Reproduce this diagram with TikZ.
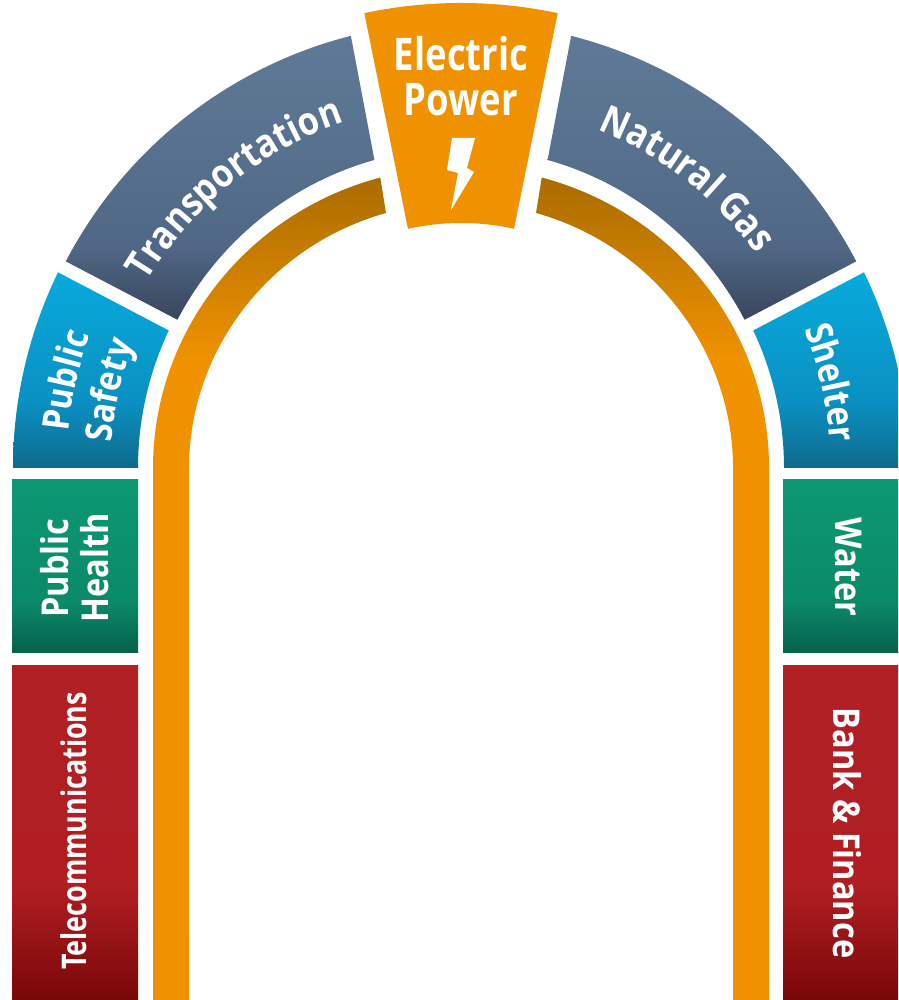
\documentclass[tikz,border=0pt]{standalone}
\usepackage{fontspec}
\usetikzlibrary{decorations.text}
\newfontfamily\lab[FakeStretch=0.88]{Open Sans}
\newfontfamily\labn[FakeStretch=0.79]{Open Sans}
\newfontfamily\labk[FakeStretch=0.81]{Open Sans}
\definecolor{slT}{HTML}{5F7A96}\definecolor{slM}{HTML}{506886}\definecolor{slB}{HTML}{39455C}
\definecolor{blT}{HTML}{08AADC}\definecolor{blM}{HTML}{0A90C2}\definecolor{blB}{HTML}{106A8C}
\definecolor{grT}{HTML}{0C9872}\definecolor{grM}{HTML}{0A8A68}\definecolor{grB}{HTML}{07604C}
\definecolor{reT}{HTML}{B02024}\definecolor{reM}{HTML}{B01E22}\definecolor{reB}{HTML}{780808}
\definecolor{orA}{HTML}{F09200}\definecolor{orD}{HTML}{A96C00}
\pgfdeclareverticalshading{redgrad}{100bp}{color(0bp)=(reB); color(25bp)=(reB); color(42bp)=(reM); color(75bp)=(reT); color(100bp)=(reT)}
\pgfdeclareverticalshading{slgrad}{100bp}{color(0bp)=(slB); color(25bp)=(slB); color(38bp)=(slM); color(75bp)=(slT); color(100bp)=(slT)}
\pgfdeclareverticalshading{blgrad}{100bp}{color(0bp)=(blB); color(25bp)=(blB); color(42bp)=(blM); color(75bp)=(blT); color(100bp)=(blT)}
\pgfdeclareverticalshading{grgrad}{100bp}{color(0bp)=(grB); color(25bp)=(grB); color(40bp)=(grM); color(75bp)=(grT); color(100bp)=(grT)}
\tikzset{
  slateseg/.style={shading=slgrad},
  blueseg/.style={shading=blgrad},
  greenseg/.style={shading=grgrad},
  redseg/.style={shading=redgrad},
  lbl/.style={text=white,inner sep=0pt,font=\lab\bfseries\fontsize{37}{39}\selectfont,align=center},
}
\newcommand{\curvedlabel}[5]{% size, radius, start, end, text
  \path[decorate,decoration={text along path,text align=center,
    text={|\lab\bfseries\fontsize{#1}{39}\selectfont\color{white}|#5}}]
    ([shift={(c)}]#3:#2) arc[start angle=#3,end angle=#4,radius=#2];}
\begin{document}
\begin{tikzpicture}[x=1pt,y=1pt]
\useasboundingbox (0,0) rectangle (898,1000);
\fill[white] (0,0) rectangle (898,1000);
\clip (0,0) rectangle (898,1000);
\coordinate (c) at (461,532);
% lower bands
\shade[redseg] (12,0) rectangle (138,334);
\shade[redseg] (783,0) rectangle (910,334);
\shade[greenseg] (12,347) rectangle (138,520);
\shade[greenseg] (783,347) rectangle (910,520);
% blue
\shade[blueseg] (13,532) arc[start angle=180,end angle=154.1,radius=448]
  -- ([shift={(c)}]154.8:323) arc[start angle=154.8,end angle=180,radius=323] -- cycle;
\shade[blueseg] (909,532) arc[start angle=0,end angle=25.9,radius=448]
  -- ([shift={(c)}]25.2:323) arc[start angle=25.2,end angle=0,radius=323] -- cycle;
% slate
\shade[slateseg] ([shift={(c)}]152.4:446) arc[start angle=152.4,end angle=104.3,radius=446]
  -- ([shift={(c)}]105.7:320) arc[start angle=105.7,end angle=152.4,radius=320] -- cycle;
\shade[slateseg] ([shift={(c)}]27.6:446) arc[start angle=27.6,end angle=75.7,radius=446]
  -- ([shift={(c)}]74.3:320) arc[start angle=74.3,end angle=27.6,radius=320] -- cycle;
% orange arch
\begin{scope}
\clip (153,0) -- (153,532) arc[start angle=180,end angle=105.2,x radius=308,y radius=301]
  -- (386,787) arc[start angle=106,end angle=180,x radius=272,y radius=266] -- (189,0) -- cycle
  (769,0) -- (769,532) arc[start angle=0,end angle=74.8,x radius=308,y radius=301]
  -- (536,787) arc[start angle=74,end angle=0,x radius=272,y radius=266] -- (733,0) -- cycle;
\fill[orA] (140,0) rectangle (780,640);
\shade[top color=orD,bottom color=orA] (140,640) rectangle (780,825);
\end{scope}
% keystone
\fill[orA] ([shift={(c)}]102:465) arc[start angle=102,end angle=78,radius=465]
  -- ([shift={(c)}]77.5:245) arc[start angle=77.5,end angle=102.5,radius=245] -- cycle;
\fill[white] (452,862) -- (475,862) -- (467,832) -- (474,828) -- (451,790) -- (458,827) -- (447,830) -- cycle;
% text
\node[lbl,font=\labk\bfseries\fontsize{45}{46}\selectfont] (power) at (461,924) {Electric\\[-1pt]Power};
\curvedlabel{39}{365}{153}{105}{Transportation}
\curvedlabel{39}{365}{76}{28}{Natural Gas}
\curvedlabel{37}{394}{178}{157}{Public}
\curvedlabel{37}{350}{178}{157}{Safety}
\curvedlabel{37}{370}{24}{2}{Shelter}
\node[lbl,rotate=90] (health1) at (55,432) {Public};
\node[lbl,rotate=90] (health2) at (95,432) {Health};
\node[lbl,rotate=90,font=\labn\bfseries\fontsize{34}{36}\selectfont] (telecom) at (74,169) {Telecommunications};
\node[lbl,rotate=-90] (water) at (849,433) {Water};
\node[lbl,rotate=-90] (bank) at (847,167) {Bank \& Finance};
\end{tikzpicture}
\end{document}
